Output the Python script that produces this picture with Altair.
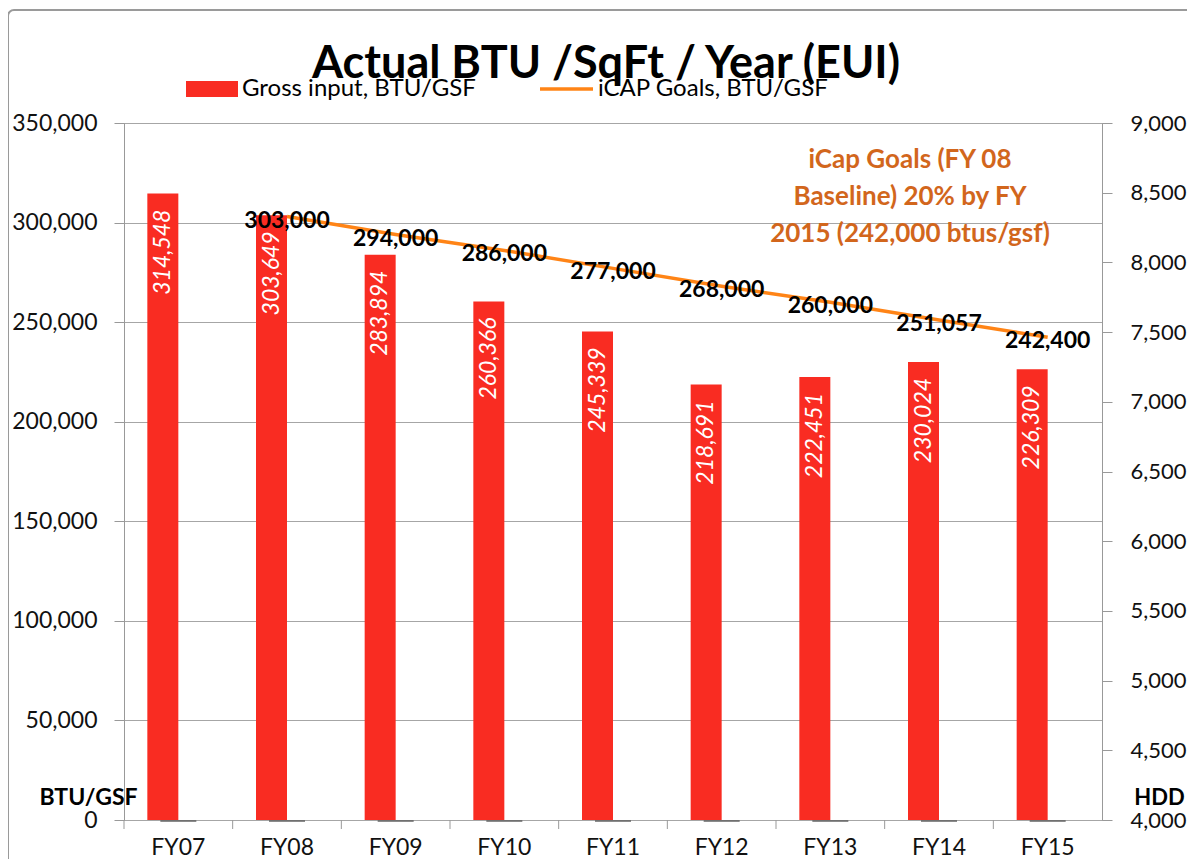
import altair as alt
import pandas as pd

categories = ["FY07", "FY08", "FY09", "FY10", "FY11", "FY12", "FY13", "FY14", "FY15"]
gross = [314548, 303649, 283894, 260366, 245339, 218691, 222451, 230024, 226309]
goals = [None, 303000, 294000, 286000, 277000, 268000, 260000, 251057, 242400]
hdd = [0, 0, 0, 0, 0, 0, 0, 0, 0]
left_ticks = [0, 50000, 100000, 150000, 200000, 250000, 300000, 350000]
right_ticks = [4000, 4500, 5000, 5500, 6000, 6500, 7000, 7500, 8000, 8500, 9000]
title_text = "Actual BTU /SqFt / Year (EUI)"
legend_labels = ["Gross input, BTU/GSF", "iCAP Goals, BTU/GSF"]
note_lines = ["iCap Goals (FY 08", "Baseline) 20% by FY", "2015 (242,000 btus/gsf)"]

W, H = 978, 697
FONT = "Lato"
RED = "#F92C22"
ORANGE = "#FF8416"
NOTE = "#D2661C"
GRID = "#a6a6a6"
FMT = "format(datum.value, ',')"

df = pd.DataFrame({"cat": categories, "gross": gross, "goal": goals, "hdd": hdd})
one = pd.DataFrame({"k": [0]})

xscale = alt.Scale(domain=categories, paddingInner=0, paddingOuter=0)
xaxis_def = alt.Axis(title=None, labelAngle=0, ticks=False, domain=False,
                     labelFontSize=23, labelPadding=16, labelColor="#111",
                     labelFont=FONT)


def xenc(**kw):
    return alt.X("cat:N", sort=categories, scale=xscale, axis=xaxis_def, **kw)


yscale = alt.Scale(domain=[0, 350000], nice=False, zero=True)

base = alt.Chart(df)

bars = base.mark_bar(color=RED, size=31, xOffset=-15.5).encode(
    x=xenc(),
    y=alt.Y("gross:Q", scale=yscale,
            axis=alt.Axis(values=left_ticks, labelExpr=FMT, grid=True, gridColor=GRID,
                          tickSize=10, tickColor="#999", domainColor="#999",
                          labelPadding=17, labelFontSize=23, labelColor="#111",
                          labelFont=FONT,
                          title="BTU/GSF", titleAngle=0, titleX=-36, titleY=674,
                          titleAlign="center", titleBaseline="middle",
                          titleFontSize=23, titleFontWeight="bold", titleFont=FONT,
                          titleColor="#000")),
)

bar_labels = base.mark_text(angle=270, align="right", baseline="middle", dx=-16,
                            xOffset=-15.5, color="white", fontStyle="italic",
                            fontSize=23, font=FONT).encode(
    x=xenc(),
    y=alt.Y("gross:Q", scale=yscale, axis=None),
    text=alt.Text("gross:Q", format=","),
)

xticks = base.mark_rule(color="#999", strokeWidth=1).encode(
    x=xenc(bandPosition=0),
    y=alt.value(H), y2=alt.value(H + 9),
)

goal_data = base.transform_filter("datum.goal != null")
line = goal_data.mark_line(color=ORANGE, strokeWidth=3.5).encode(
    x=xenc(),
    y=alt.Y("goal:Q", scale=yscale, axis=None),
)
line_labels = goal_data.mark_text(fontWeight="bold", fontSize=23, font=FONT,
                                  color="#000", dy=4).encode(
    x=xenc(),
    y=alt.Y("goal:Q", scale=yscale, axis=None),
    text=alt.Text("goal:Q", format=","),
)

hdd_layer = base.mark_tick(color="#5a5a5a", thickness=2, size=36, yOffset=1).encode(
    x=xenc(),
    y=alt.Y("hdd:Q", scale=alt.Scale(domain=[4000, 9000], nice=False, zero=False, clamp=True),
            axis=alt.Axis(orient="right", values=right_ticks, labelExpr=FMT, grid=False,
                          tickSize=10, tickColor="#999", domainColor="#999",
                          labelPadding=18, labelFontSize=22, labelColor="#111",
                          labelFont=FONT,
                          title="HDD", titleAngle=0, titleX=57, titleY=674,
                          titleAlign="center", titleBaseline="middle",
                          titleFontSize=22, titleFontWeight="bold", titleFont=FONT,
                          titleColor="#000")),
)

ann = alt.Chart(one)
title = ann.mark_text(text=title_text, fontSize=45, fontWeight="bold", font=FONT,
                      align="center", baseline="alphabetic", color="#000").encode(
    x=alt.value(482), y=alt.value(-45))
leg_rect = ann.mark_rect(color=RED).encode(
    x=alt.value(62), x2=alt.value(114), y=alt.value(-42), y2=alt.value(-26))
leg_text1 = ann.mark_text(text=legend_labels[0], fontSize=24, font=FONT, align="left",
                          baseline="middle", color="#000").encode(
    x=alt.value(118), y=alt.value(-34))
leg_line = ann.mark_rule(color=ORANGE, strokeWidth=3.5).encode(
    x=alt.value(416), x2=alt.value(469), y=alt.value(-34))
leg_text2 = ann.mark_text(text=legend_labels[1], fontSize=24, font=FONT, align="left",
                          baseline="middle", color="#000").encode(
    x=alt.value(474), y=alt.value(-34))
note = ann.mark_text(text=note_lines, fontSize=26, fontWeight="bold", font=FONT,
                     align="center", baseline="middle", lineHeight=37,
                     color=NOTE).encode(
    x=alt.value(786), y=alt.value(37))
frame = ann.mark_rect(fillOpacity=0, stroke="#9a9a9a", strokeWidth=2,
                      cornerRadius=6).encode(
    x=alt.value(-116), y=alt.value(-113), x2=alt.value(W + 200), y2=alt.value(H + 200))

chart = alt.layer(bars, xticks, bar_labels, line, line_labels, hdd_layer,
                  title, leg_rect, leg_text1, leg_line, leg_text2, note, frame
                  ).resolve_scale(y="independent").properties(
    width=W, height=H,
    autosize=alt.AutoSizeParams(type="none"),
    padding={"left": 116, "top": 115, "right": 85, "bottom": 39},
    background="white",
).configure_view(stroke="#999", strokeWidth=1)

chart.save("out.html", embed_options={"renderer": "svg", "actions": False})
